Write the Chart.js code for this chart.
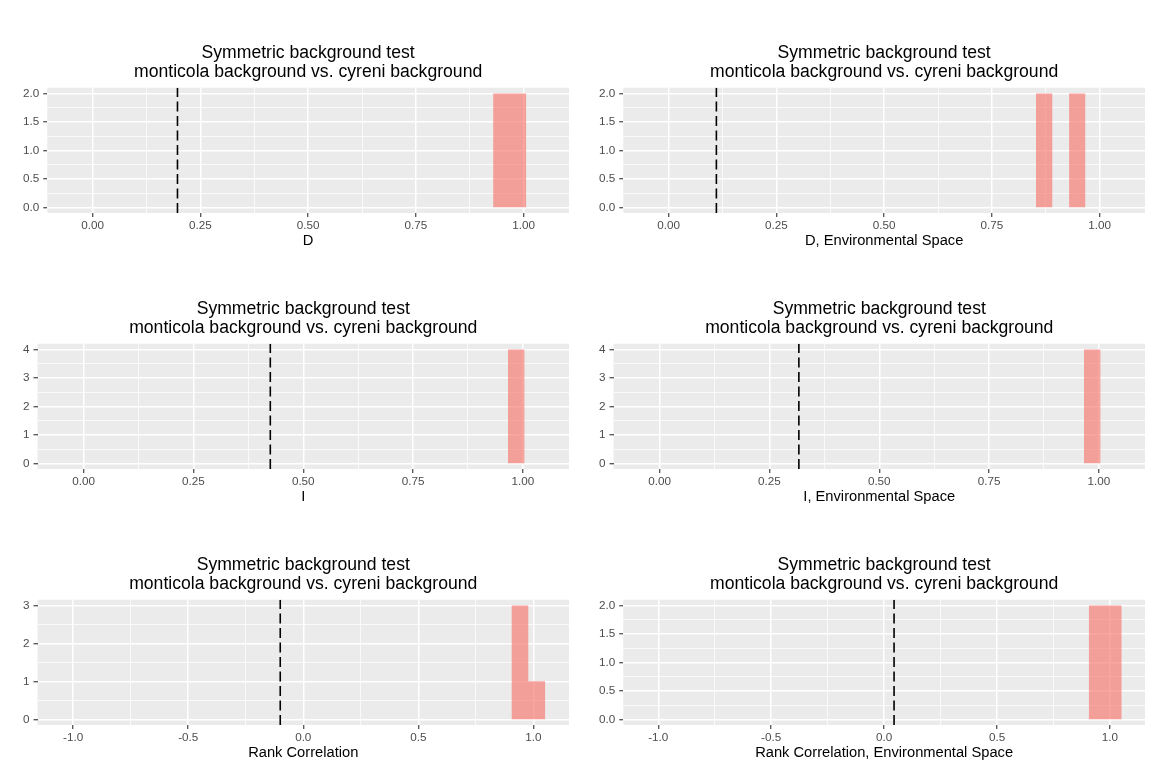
<!DOCTYPE html>
<html>
<head>
<meta charset="utf-8">
<script src="https://cdn.jsdelivr.net/npm/chart.js@4.4.1/dist/chart.umd.min.js"></script>
<style>
  html, body { margin: 0; padding: 0; background: #ffffff; }
  #grid { position: relative; width: 1152px; height: 768px; }
  .cell { position: absolute; width: 576px; height: 256px; }
</style>
</head>
<body>
<div id="grid"></div>
<script>
// Same two-line title on every panel
const titleLines = ['Symmetric background test', 'monticola background vs. cyreni background'];

const xTitles = [
  'D', 'D, Environmental Space',
  'I', 'I, Environmental Space',
  'Rank Correlation', 'Rank Correlation, Environmental Space'
];

// Histogram bin edges and counts
const binsD = [0.929, 0.967, 1.006];
const countsD = [2, 2];
const binsDEnv = [0.852, 0.890, 0.929, 0.967];
const countsDEnv = [2, 0, 2];
const binsI = [0.966, 1.004];
const countsI = [4];
const binsIEnv = [0.966, 1.004];
const countsIEnv = [4];
const binsCor = [0.905, 0.978, 1.052];
const countsCor = [3, 1];
const binsCorEnv = [0.906, 0.979, 1.052];
const countsCorEnv = [2, 2];

// Observed values (dashed lines)
const observed = [0.197, 0.111, 0.425, 0.317, -0.100, 0.044];

// Axis limits and ticks
const xRangeOverlap = [-0.105, 1.105];
const xMajorOverlap = [0, 0.25, 0.5, 0.75, 1];
const xMinorOverlap = [0.125, 0.375, 0.625, 0.875];
const xLabelsOverlap = ['0.00', '0.25', '0.50', '0.75', '1.00'];

const xRangeCor = [-1.155, 1.155];
const xMajorCor = [-1, -0.5, 0, 0.5, 1];
const xMinorCor = [-0.75, -0.25, 0.25, 0.75];
const xLabelsCor = ['-1.0', '-0.5', '0.0', '0.5', '1.0'];

const yRange2 = [-0.1, 2.1];
const yMajor2 = [0, 0.5, 1, 1.5, 2];
const yMinor2 = [0.25, 0.75, 1.25, 1.75];
const yLabels2 = ['0.0', '0.5', '1.0', '1.5', '2.0'];

const yRange4 = [-0.2, 4.2];
const yMajor4 = [0, 1, 2, 3, 4];
const yMinor4 = [0.5, 1.5, 2.5, 3.5];
const yLabels4 = ['0', '1', '2', '3', '4'];

const yRange3 = [-0.15, 3.15];
const yMajor3 = [0, 1, 2, 3];
const yMinor3 = [0.5, 1.5, 2.5];
const yLabels3 = ['0', '1', '2', '3'];

Chart.defaults.font.family = "'Liberation Sans', Arial, Helvetica, sans-serif";

const xOverlap = [xRangeOverlap, xMajorOverlap, xMinorOverlap, xLabelsOverlap];
const xCor = [xRangeCor, xMajorCor, xMinorCor, xLabelsCor];
const y2 = [yRange2, yMajor2, yMinor2, yLabels2];
const y4 = [yRange4, yMajor4, yMinor4, yLabels4];
const y3 = [yRange3, yMajor3, yMinor3, yLabels3];

const panels = [
  { bins: binsD, counts: countsD, x: xOverlap, y: y2 },
  { bins: binsDEnv, counts: countsDEnv, x: xOverlap, y: y2 },
  { bins: binsI, counts: countsI, x: xOverlap, y: y4 },
  { bins: binsIEnv, counts: countsIEnv, x: xOverlap, y: y4 },
  { bins: binsCor, counts: countsCor, x: xCor, y: y3 },
  { bins: binsCorEnv, counts: countsCorEnv, x: xCor, y: y2 }
];

// grey ggplot-style panel background
const panelBg = {
  id: 'panelBg',
  beforeDraw(chart) {
    const { ctx, chartArea: a } = chart;
    ctx.save();
    ctx.fillStyle = '#EBEBEB';
    ctx.fillRect(a.left, a.top, a.right - a.left, a.bottom - a.top);
    ctx.restore();
  }
};

/**
 * Linear axis with major + minor white grid lines
 */
function axis(spec, tickPad) {
  const [range, major, minor, labels] = spec;
  const all = major.concat(minor).sort((a, b) => a - b);
  const isMajor = c => c.tick && major.includes(c.tick.value);
  return {
    type: 'linear',
    min: range[0],
    max: range[1],
    afterBuildTicks: s => { s.ticks = all.map(v => ({ value: v })); },
    border: { display: false },
    grid: {
      color: '#FFFFFF',
      lineWidth: c => isMajor(c) ? 1.5 : 0.75,
      tickLength: 4,
      tickWidth: 1.1,
      tickColor: c => isMajor(c) ? '#333333' : 'rgba(0,0,0,0)'
    },
    ticks: {
      autoSkip: false,
      maxRotation: 0,
      padding: tickPad,
      color: '#4D4D4D',
      font: { size: 11.7 },
      callback: v => {
        const k = major.indexOf(v);
        return k < 0 ? '' : labels[k];
      }
    }
  };
}

// outline of the histogram as a closed step shape
function histPoints(edges, counts) {
  const pts = [{ x: edges[0], y: 0 }];
  counts.forEach((c, k) => {
    pts.push({ x: edges[k], y: c }, { x: edges[k + 1], y: c });
  });
  pts.push({ x: edges[edges.length - 1], y: 0 });
  return pts;
}

const grid = document.getElementById('grid');

panels.forEach((p, i) => {
  const cell = document.createElement('div');
  cell.className = 'cell';
  cell.style.left = (i % 2) * 576 + 'px';
  cell.style.top = Math.floor(i / 2) * 256 + 'px';
  const canvas = document.createElement('canvas');
  canvas.width = 576;
  canvas.height = 256;
  cell.appendChild(canvas);
  grid.appendChild(cell);

  const yRange = p.y[0];
  const xScale = axis(p.x, 2);
  xScale.title = {
    display: true,
    text: xTitles[i],
    color: '#000000',
    font: { size: 14.7 },
    padding: { top: 0, bottom: 6 }
  };
  xScale.afterFit = s => { s.height = 43; };
  const yScale = axis(p.y, 4);

  new Chart(canvas, {
    type: 'line',
    data: {
      datasets: [
        {
          data: [{ x: observed[i], y: yRange[0] }, { x: observed[i], y: yRange[1] }],
          borderColor: '#000000',
          borderWidth: 1.6,
          borderDash: [10, 4.5],
          pointRadius: 0,
          fill: false
        },
        {
          data: histPoints(p.bins, p.counts),
          borderWidth: 0,
          borderColor: 'rgba(0,0,0,0)',
          backgroundColor: 'rgba(246,118,110,0.65)',
          pointRadius: 0,
          tension: 0,
          fill: 'origin'
        }
      ]
    },
    options: {
      responsive: false,
      animation: false,
      events: [],
      layout: { padding: { left: 19, right: 7, top: 0, bottom: 0 } },
      plugins: {
        legend: { display: false },
        tooltip: { enabled: false },
        title: {
          display: true,
          fullSize: false,
          text: titleLines,
          color: '#000000',
          font: { size: 17.6, weight: 'normal', lineHeight: 1.1 },
          padding: { top: 43, bottom: 6 }
        }
      },
      scales: { x: xScale, y: yScale }
    },
    plugins: [panelBg]
  });
});
</script>
</body>
</html>
